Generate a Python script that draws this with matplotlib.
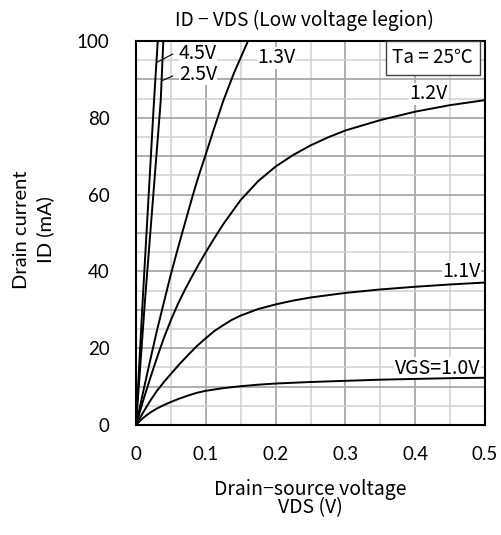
import matplotlib
matplotlib.use("Agg")
import matplotlib.pyplot as plt

# curves (VDS in V, ID in mA)
vds_45 = [0, 0.0096, 0.0258, 0.031, 0.034]
id_45 = [0, 32.5, 84.4, 99.5, 108]

vds_25 = [0, 0.0129, 0.0354, 0.039, 0.043]
id_25 = [0, 32.5, 84.4, 99.5, 110]

vds_13 = [0, 0.01, 0.02, 0.03, 0.0406, 0.05, 0.06, 0.07, 0.082, 0.09, 0.1, 0.11, 0.125, 0.14, 0.159, 0.17]
id_13 = [0, 8.4, 16.6, 24.6, 32.4, 39.3, 46, 52.5, 60.2, 65, 70.5, 76.2, 84.4, 91.5, 99.4, 104]

vds_12 = [0, 0.01, 0.02, 0.03, 0.04, 0.05, 0.06, 0.07, 0.08, 0.09, 0.1, 0.11, 0.125, 0.15,
          0.175, 0.2, 0.225, 0.25, 0.275, 0.3, 0.35, 0.4, 0.45, 0.5]
id_12 = [0, 6.2, 12, 17.5, 22.7, 27.3, 31.5, 35.2, 38.6, 41.9, 45, 48, 52.3, 58.6,
         63.5, 67.3, 70.3, 72.8, 74.9, 76.7, 79.4, 81.6, 83.3, 84.6]

vds_11 = [0, 0.01, 0.02, 0.03, 0.04, 0.05, 0.0625, 0.075, 0.0875, 0.1, 0.1125, 0.125, 0.1375,
          0.15, 0.175, 0.2, 0.225, 0.25, 0.3, 0.35, 0.4, 0.45, 0.5]
id_11 = [0, 3.2, 6.2, 8.9, 11.2, 13.3, 15.9, 18.3, 20.6, 22.6, 24.5, 26.0, 27.4,
         28.5, 30.2, 31.4, 32.4, 33.2, 34.4, 35.3, 36.0, 36.6, 37.1]

vds_10 = [0, 0.005, 0.01, 0.02, 0.03, 0.04, 0.05, 0.0625, 0.075, 0.0875, 0.1, 0.125, 0.15,
          0.175, 0.2, 0.25, 0.3, 0.35, 0.4, 0.45, 0.5]
id_10 = [0, 0.9, 1.8, 3.2, 4.3, 5.2, 6.0, 6.9, 7.7, 8.4, 8.9, 9.6, 10.1,
         10.5, 10.8, 11.2, 11.5, 11.8, 12.0, 12.2, 12.3]

curves = [(vds_45, id_45), (vds_25, id_25), (vds_13, id_13),
          (vds_12, id_12), (vds_11, id_11), (vds_10, id_10)]

x_ticks = [0, 0.1, 0.2, 0.3, 0.4, 0.5]
x_labels = ["0", "0.1", "0.2", "0.3", "0.4", "0.5"]
y_ticks = [0, 20, 40, 60, 80, 100]

jp = ["Noto Sans CJK JP", "DejaVu Sans"]
lat = ["Lato", "DejaVu Sans"]

fig = plt.figure(figsize=(5.02, 5.35), dpi=100)
ax = fig.add_axes([136 / 502, 1 - 425 / 535, 349 / 502, 384 / 535])

# grid: every 0.05 V / 5 mA, darker every 0.1 V / 10 mA
for i in range(1, 10):
    x = i * 0.05
    ax.axvline(x, color="#a8a8a8" if i % 2 == 0 else "#d0d0d0",
               lw=1.3 if i % 2 == 0 else 1.1, zorder=0)
for i in range(1, 20):
    y = i * 5
    ax.axhline(y, color="#a8a8a8" if i % 2 == 0 else "#d0d0d0",
               lw=1.3 if i % 2 == 0 else 1.1, zorder=0)

for xs, ys in curves:
    ax.plot(xs, ys, color="black", lw=1.4, zorder=3)

ax.set_xlim(0, 0.5)
ax.set_ylim(0, 100)
ax.set_xticks(x_ticks)
ax.set_xticklabels(x_labels)
ax.set_yticks(y_ticks)
ax.tick_params(length=0, labelsize=13.5)
ax.tick_params(axis="y", pad=19)
ax.tick_params(axis="x", pad=15)
for lab in ax.get_xticklabels() + ax.get_yticklabels():
    lab.set_family(lat)
for s in ax.spines.values():
    s.set_linewidth(1.5)
    s.set_zorder(5)

box = dict(facecolor="white", edgecolor="none", pad=0.3)
fs = 14
ax.text(0.0888, 96.8, "4.5V", fontsize=fs, family=jp, ha="center", va="center", bbox=box, zorder=2)
ax.text(0.0888, 91.4, "2.5V", fontsize=fs, family=jp, ha="center", va="center", bbox=box, zorder=2)
ax.plot([0.0295, 0.0526], [94.4, 96.6], color="black", lw=0.8, zorder=4)
ax.plot([0.0365, 0.0526], [89.6, 90.9], color="black", lw=0.8, zorder=4)
ax.text(0.2006, 95.6, "1.3V", fontsize=fs, family=jp, ha="center", va="center", bbox=box, zorder=2)
ax.text(0.419, 86.2, "1.2V", fontsize=fs, family=jp, ha="center", va="center", bbox=box, zorder=2)
ax.text(0.4666, 39.9, "1.1V", fontsize=fs, family=jp, ha="center", va="center", bbox=box, zorder=2)
ax.text(0.432, 14.8, "VGS=1.0V", fontsize=fs, family=jp, ha="center", va="center", bbox=box, zorder=2)

ax.text(0.425, 95.6, "Ta = 25℃", fontsize=13.5, family=jp, ha="center", va="center", zorder=6,
        bbox=dict(facecolor="white", edgecolor="#404040", lw=1.0, boxstyle="square,pad=0.35"))

fig.text(304 / 502, 1 - 20 / 535, "ID − VDS (Low voltage legion)", fontsize=13.8, family=jp,
         ha="center", va="center")
fig.text(310 / 502, 1 - 489 / 535, "Drain−source voltage", fontsize=14, family=jp,
         ha="center", va="center")
fig.text(310 / 502, 1 - 508 / 535, "VDS (V)", fontsize=14, family=jp,
         ha="center", va="center")
fig.text(22 / 502, 1 - 230 / 535, "Drain current", fontsize=14.5, family=lat,
         ha="center", va="center", rotation=90)
fig.text(45 / 502, 1 - 230 / 535, "ID (mA)", fontsize=14.5, family=lat,
         ha="center", va="center", rotation=90)

fig.savefig("out.png", dpi=100)
